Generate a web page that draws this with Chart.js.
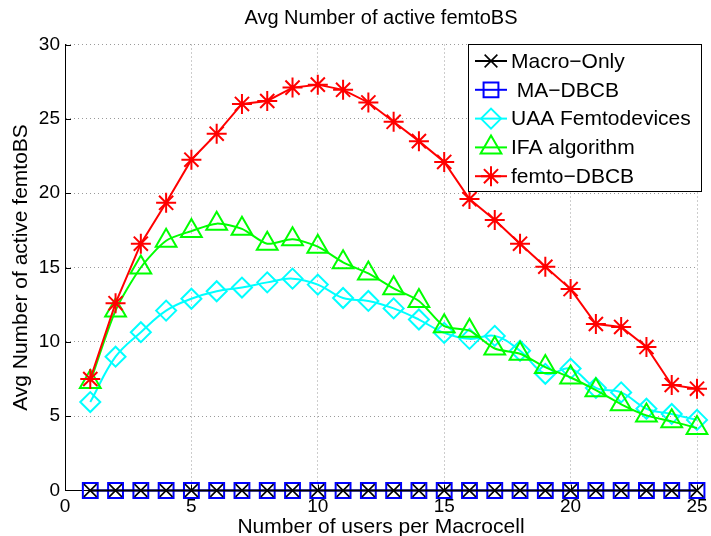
<!DOCTYPE html>
<html>
<head>
<meta charset="utf-8">
<script src="https://cdn.jsdelivr.net/npm/chart.js@4/dist/chart.umd.min.js"></script>
<style>
  html, body { margin: 0; padding: 0; background: #fff; }
  #c { display: block; }
</style>
</head>
<body>
<canvas id="c" width="711" height="536"></canvas>
<script>
// ---- Data ----
const users = [1,2,3,4,5,6,7,8,9,10,11,12,13,14,15,16,17,18,19,20,21,22,23,24,25];
const macroOnly = [0,0,0,0,0,0,0,0,0,0,0,0,0,0,0,0,0,0,0,0,0,0,0,0,0];
const maDBCB    = [0,0,0,0,0,0,0,0,0,0,0,0,0,0,0,0,0,0,0,0,0,0,0,0,0];
const uaaFemto  = [5.95, 9.0, 10.65, 12.1, 12.9, 13.4, 13.65, 14.0, 14.25, 13.85, 12.95, 12.75, 12.25, 11.5, 10.6, 10.2, 10.4, 9.4, 7.85, 8.2, 6.9, 6.6, 5.5, 5.15, 4.75];
const ifaAlg    = [7.3, 12.1, 15.0, 16.8, 17.45, 17.95, 17.6, 16.6, 16.9, 16.4, 15.35, 14.6, 13.6, 12.75, 11.05, 10.75, 9.55, 9.2, 8.3, 7.6, 6.75, 5.8, 5.05, 4.65, 4.2];
const femtoDBCB = [7.5, 12.6, 16.6, 19.35, 22.25, 24.0, 26.0, 26.2, 27.1, 27.3, 26.95, 26.1, 24.8, 23.5, 22.1, 19.6, 18.2, 16.6, 15.05, 13.55, 11.2, 11.0, 9.65, 7.1, 6.85];
const xTicks = [0,5,10,15,20,25];
const yTicks = [0,5,10,15,20,25,30];

const FONT = "'Liberation Sans', Arial, Helvetica, sans-serif";
const toXY = arr => users.map((u, i) => ({x: u, y: arr[i]}));

function ds(label, arr, color, style, radius, width, tension, order) {
  return {
    label: label,
    data: toXY(arr),
    borderColor: color,
    backgroundColor: 'rgba(0,0,0,0)',
    borderWidth: 2,
    pointStyle: style,
    pointRadius: radius,
    pointHoverRadius: radius,
    pointBorderColor: color,
    pointBackgroundColor: 'rgba(0,0,0,0)',
    pointBorderWidth: width,
    tension: tension,
    fill: false,
    clip: false,
    order: order
  };
}

const datasets = [
  ds('Macro\u2212Only', macroOnly, '#000000', 'crossRot', 9, 1.6, 0, 4),
  ds(' MA\u2212DBCB', maDBCB, '#0000ff', 'rect', 10.5, 2, 0, 5),
  ds('UAA Femtodevices', uaaFemto, '#00ffff', 'rectRot', 10, 2, 0.4, 3),
  ds('IFA algorithm', ifaAlg, '#00ff00', 'triangle', 12, 2, 0.25, 2),
  ds('femto\u2212DBCB', femtoDBCB, '#ff0000', 'star', 10, 2, 0, 1)
];

const innerTicks = {
  id: 'innerTicks',
  beforeDatasetsDraw(chart) {
    const ctx = chart.ctx, xs = chart.scales.x, ys = chart.scales.y, a = chart.chartArea;
    ctx.save();
    ctx.strokeStyle = '#000';
    ctx.lineWidth = 1;
    ctx.beginPath();
    yTicks.forEach(v => {
      if (v === 0) return;
      const py = Math.round(ys.getPixelForValue(v)) + 0.5;
      ctx.moveTo(a.left, py); ctx.lineTo(a.left + 6, py);
    });
    xTicks.forEach(v => {
      if (v === 0) return;
      const px = Math.round(xs.getPixelForValue(v)) + 0.5;
      ctx.moveTo(px, a.bottom); ctx.lineTo(px, a.bottom - 6);
    });
    ctx.stroke();
    ctx.restore();
  }
};

const boxLegend = {
  id: 'boxLegend',
  afterDraw(chart) {
    const ctx = chart.ctx;
    const bx = 468.5, by = 44.5, bw = 233, bh = 147;
    ctx.save();
    ctx.fillStyle = '#fff';
    ctx.strokeStyle = '#000';
    ctx.lineWidth = 1;
    ctx.fillRect(bx, by, bw, bh);
    ctx.strokeRect(bx, by, bw, bh);
    chart.data.datasets.forEach((d, i) => {
      const cy = 61 + i * 28.8;
      ctx.strokeStyle = d.borderColor;
      ctx.lineWidth = 2;
      ctx.setLineDash([]);
      ctx.beginPath();
      ctx.moveTo(475, cy); ctx.lineTo(507, cy);
      ctx.stroke();
      ctx.fillStyle = 'rgba(0,0,0,0)';
      ctx.lineWidth = d.pointBorderWidth;
      if (Chart.helpers && Chart.helpers.drawPoint) {
        Chart.helpers.drawPoint(ctx, {pointStyle: d.pointStyle, radius: d.pointRadius, rotation: 0, borderWidth: d.pointBorderWidth}, 491, cy);
      }
      ctx.fillStyle = '#000';
      ctx.font = '21px ' + FONT;
      ctx.textBaseline = 'middle';
      ctx.textAlign = 'left';
      ctx.fillText(d.label, 511, cy + 1);
    });
    ctx.restore();
  }
};

new Chart(document.getElementById('c'), {
  type: 'line',
  data: { datasets: datasets },
  plugins: [innerTicks, boxLegend],
  options: {
    responsive: false,
    animation: false,
    devicePixelRatio: 1,
    layout: { padding: { left: 0, right: 9, top: 0, bottom: 0 } },
    plugins: {
      legend: { display: false },
      tooltip: { enabled: false },
      title: {
        display: true,
        fullSize: false,
        text: 'Avg Number of active femtoBS',
        color: '#000',
        font: { family: FONT, size: 20, weight: 'normal', lineHeight: 1.2 },
        padding: { top: 6, bottom: 14.5 }
      }
    },
    scales: {
      x: {
        type: 'linear',
        min: 0, max: 25,
        afterBuildTicks(scale) { scale.ticks = xTicks.map(v => ({value: v})); },
        afterFit(scale) { scale.height = 45.5; scale.paddingLeft = 0; scale.paddingRight = 0; },
        ticks: { color: '#000', font: { family: FONT, size: 19 }, padding: 5, maxRotation: 0, autoSkip: false },
        grid: { color: '#9a9a9a', lineWidth: 1, drawTicks: false },
        border: { display: true, color: '#000', width: 1, dash: [1, 3] },
        title: {
          display: true,
          text: 'Number of users per Macrocell',
          color: '#000',
          font: { family: FONT, size: 21, lineHeight: 1 },
          padding: { top: 0, bottom: -1.5 }
        }
      },
      y: {
        type: 'linear',
        min: 0, max: 30,
        afterBuildTicks(scale) { scale.ticks = yTicks.map(v => ({value: v})); },
        afterFit(scale) { scale.width = 65; },
        ticks: { color: '#000', font: { family: FONT, size: 19 }, padding: 5 },
        grid: { color: '#9a9a9a', lineWidth: 1, drawTicks: false },
        border: { display: true, color: '#000', width: 1, dash: [1, 3] },
        title: {
          display: true,
          text: 'Avg Number of active femtoBS',
          color: '#000',
          font: { family: FONT, size: 21, lineHeight: 1.2 },
          padding: { top: 8.5, bottom: 0 }
        }
      }
    }
  }
});
</script>
</body>
</html>
